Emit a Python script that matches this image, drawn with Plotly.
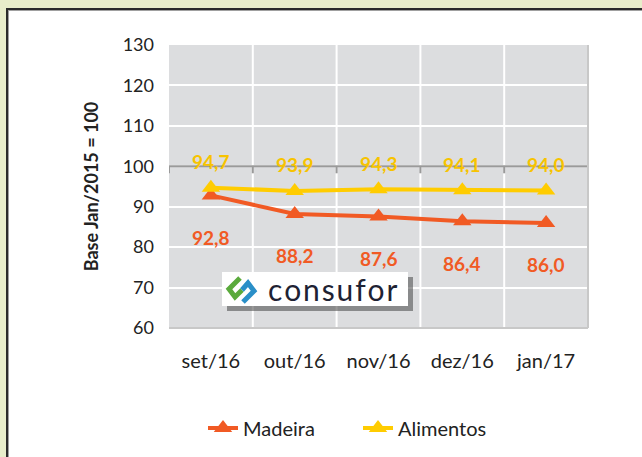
import plotly.graph_objects as go

# ---- data ----
categories = ["set/16", "out/16", "nov/16", "dez/16", "jan/17"]
madeira = [92.8, 88.2, 87.6, 86.4, 86.0]
alimentos = [94.7, 93.9, 94.3, 94.1, 94.0]
y_ticks = [60, 70, 80, 90, 100, 110, 120, 130]

# ---- styles ----
W, H = 642, 457
L, R, T, B = 169, 54, 45, 129
PW, PH = W - L - R, H - T - B
ORANGE = "#f15a24"
YELLOW = "#ffcc00"
YELLOW_TXT = "#f7c300"
FONT = "Lato"


def px(x):
    return (x - L) / PW


def py(y):
    return (H - B - y) / PH


def fmt(v):
    return f"{v:.1f}".replace(".", ",")


fig = go.Figure()
fig.add_trace(go.Scatter(
    x=categories, y=madeira, name="Madeira", mode="lines+markers",
    line=dict(color=ORANGE, width=4),
    marker=dict(symbol="triangle-up", size=16, color=ORANGE),
))
fig.add_trace(go.Scatter(
    x=categories, y=alimentos, name="Alimentos", mode="lines+markers",
    line=dict(color=YELLOW, width=4),
    marker=dict(symbol="triangle-up", size=16, color=YELLOW),
))

shapes = []
# outer frame (green strips + dark border)
shapes.append(dict(type="rect", xref="paper", yref="paper", x0=px(-10), x1=px(6), y0=py(600), y1=py(-10),
                   fillcolor="#e8edca", line=dict(width=0), layer="below"))
shapes.append(dict(type="rect", xref="paper", yref="paper", x0=px(-10), x1=px(700), y0=py(8), y1=py(-10),
                   fillcolor="#e8edca", line=dict(width=0), layer="below"))
shapes.append(dict(type="line", xref="paper", yref="paper", x0=px(7), x1=px(7), y0=py(8), y1=py(600),
                   line=dict(color="#2a2a2a", width=2)))
shapes.append(dict(type="line", xref="paper", yref="paper", x0=px(6), x1=px(700), y0=py(9), y1=py(9),
                   line=dict(color="#2a2a2a", width=2)))
shapes.append(dict(type="line", xref="paper", yref="paper", x0=px(8.5), x1=px(8.5), y0=py(10), y1=py(600),
                   line=dict(color="#a0a0a0", width=1)))
shapes.append(dict(type="line", xref="paper", yref="paper", x0=px(8), x1=px(700), y0=py(10.5), y1=py(10.5),
                   line=dict(color="#a0a0a0", width=1)))

# plot border right / bottom light gray
shapes.append(dict(type="line", xref="paper", yref="paper", x0=1, x1=1, y0=0, y1=1,
                   line=dict(color="#c8c8c8", width=2)))
shapes.append(dict(type="line", xref="paper", yref="paper", x0=0, x1=1, y0=0, y1=0,
                   line=dict(color="#c8c8c8", width=2)))

# vertical white gridlines at category boundaries
n = len(categories)
for i in range(1, n):
    shapes.append(dict(type="line", xref="x", yref="paper", x0=i - 0.5, x1=i - 0.5, y0=0, y1=1,
                       line=dict(color="white", width=2), layer="between"))

# axis line at 100 with ticks
shapes.append(dict(type="line", xref="x", yref="y", x0=-0.5, x1=n - 0.5, y0=100, y1=100,
                   line=dict(color="#9a9a9a", width=2), layer="between"))
for i in range(n + 1):
    shapes.append(dict(type="line", xref="x", yref="y", x0=i - 0.5, x1=i - 0.5, y0=100, y1=100 - 7 / PH * 70,
                       line=dict(color="#9a9a9a", width=2), layer="between"))

# logo box with shadow
shapes.append(dict(type="rect", xref="paper", yref="paper", x0=px(227), x1=px(413), y0=py(311), y1=py(277),
                   fillcolor="rgba(70,70,70,0.55)", line=dict(width=0)))
shapes.append(dict(type="rect", xref="paper", yref="paper", x0=px(222), x1=px(408), y0=py(306), y1=py(272),
                   fillcolor="white", line=dict(width=0)))


def path(points):
    return "M " + " L ".join(f"{px(a):.5f},{py(b):.5f}" for a, b in points)


shapes.append(dict(type="path", xref="paper", yref="paper",
                   path=path([(240, 278), (229, 289), (235, 297), (242, 290)]),
                   line=dict(color="#5aaa3c", width=5)))
shapes.append(dict(type="path", xref="paper", yref="paper",
                   path=path([(243, 302), (254, 291), (248, 283), (242, 290)]),
                   line=dict(color="#2a8fc8", width=5)))

annotations = []
for c, v in zip(categories, alimentos):
    annotations.append(dict(x=c, y=v, text=fmt(v), showarrow=False, yshift=26,
                            font=dict(family=FONT, size=19, color=YELLOW_TXT, weight="bold")))
for c, v in zip(categories, madeira):
    annotations.append(dict(x=c, y=v, text=fmt(v), showarrow=False, yshift=-42,
                            font=dict(family=FONT, size=19, color=ORANGE, weight="bold")))
annotations.append(dict(xref="paper", yref="paper", x=px(332), y=py(289), xanchor="center", yanchor="middle",
                        text="c o n s u f o r".replace(" ", "\u200a"), showarrow=False,
                        font=dict(family=FONT, size=30, color="#1e2233")))

fig.update_layout(
    width=W, height=H,
    margin=dict(l=L, r=R, t=T, b=B, autoexpand=False),
    paper_bgcolor="white",
    plot_bgcolor="#dcdddf",
    font=dict(family=FONT, color="#222222"),
    showlegend=True,
    legend=dict(orientation="h", x=px(358), xanchor="center", y=py(428), yanchor="middle",
                font=dict(family=FONT, size=20, color="#222222"), bgcolor="rgba(0,0,0,0)",
                itemwidth=30, tracegroupgap=0, entrywidth=110),
    xaxis=dict(range=[-0.5, n - 0.5], showgrid=False, zeroline=False, showline=False,
               ticks="", tickfont=dict(size=20, color="#222222"), ticklabelstandoff=19),
    yaxis=dict(range=[60, 130], tickvals=y_ticks, showgrid=True, gridcolor="white", gridwidth=2,
               zeroline=False, showline=False, ticks="", tickfont=dict(size=18, color="#222222"),
               ticklabelstandoff=14,
               title=dict(text="Base Jan/2015 = 100", standoff=19,
                          font=dict(family=FONT, size=18, color="#222222", weight="bold"))),
    shapes=shapes,
    annotations=annotations,
)

fig.write_html("out.html", config={"displayModeBar": False},
               post_script="document.body.style.margin='0';")
